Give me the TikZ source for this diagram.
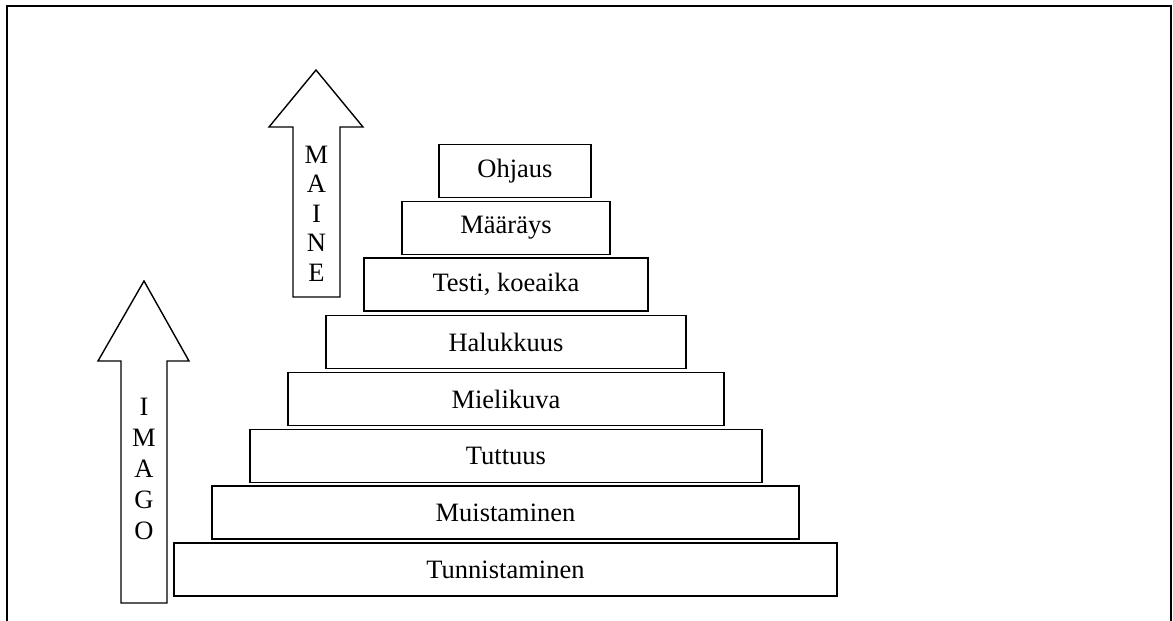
\documentclass[tikz,border=0pt]{standalone}
\usepackage{fontspec}
\setmainfont{Liberation Serif}
\begin{document}
\begin{tikzpicture}[x=1pt,y=-1pt,
    taso/.style={draw, line width=1.4pt, minimum height=53pt, inner sep=0pt, font=\fontsize{26.5}{30}\selectfont},
    kirjaimet/.style={align=center, inner sep=0pt, font=\fontsize{26.5}{29.5}\selectfont},
    nuoli/.style={line width=1.4pt, line join=miter}]
    \useasboundingbox (0,0) rectangle (1173,621);
    % kehys
    \draw[line width=2.7pt] (7,621) -- (7,6) -- (1171,6) -- (1171,621);
    % portaat
    \node[taso, minimum width=663pt] (tunnistaminen) at (505.5,569.5) {Tunnistaminen};
    \node[taso, minimum width=587pt] (muistaminen) at (505.5,512.5) {Muistaminen};
    \node[taso, minimum width=512pt] (tuttuus) at (506,456) {Tuttuus};
    \node[taso, minimum width=436pt] (mielikuva) at (506,399) {Mielikuva};
    \node[taso, minimum width=360pt] (halukkuus) at (506,342) {Halukkuus};
    \node[taso, minimum width=284pt] (testi) at (506,284.5) {Testi, koeaika};
    \node[taso, minimum width=208pt] (maarays) at (506,228) {Määräys};
    \node[taso, minimum width=152pt] (ohjaus) at (515,171) {Ohjaus};
    % nuolet
    \draw[nuoli] (144,281) -- (189,361) -- (167,361) -- (167,603) -- (121,603) -- (121,361) -- (98,361) -- cycle;
    \node[kirjaimet, font=\fontsize{26.5}{31}\selectfont] (imago) at (144,468.5) {I\\M\\A\\G\\O};
    \draw[nuoli] (316,70) -- (363,127) -- (340,127) -- (340,297) -- (293,297) -- (293,127) -- (269,127) -- cycle;
    \node[kirjaimet] (maine) at (316.5,213.5) {M\\A\\I\\N\\E};
\end{tikzpicture}
\end{document}
